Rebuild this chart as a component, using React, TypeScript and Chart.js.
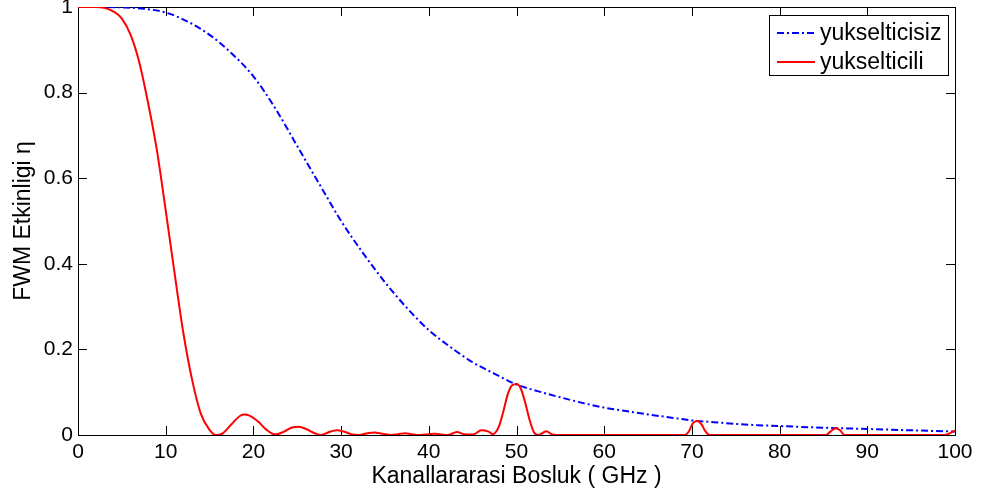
import React, { useEffect, useRef } from 'react';
import { Chart, registerables } from 'chart.js';

Chart.register(...registerables);

const xTickValues = [0, 10, 20, 30, 40, 50, 60, 70, 80, 90, 100];
const yTickValues = [0, 0.2, 0.4, 0.6, 0.8, 1];

const seriesNames = ['yukselticisiz', 'yukselticili'];

// yukselticisiz (blue, dash-dot)
const blueX = [0, 2.5, 5, 7.5, 10, 12.5, 15, 17.5, 20, 22.5, 25, 27.5, 30, 32.5, 35, 37.5, 40, 42.5, 45, 47.5, 50, 52.5, 55, 57.5, 60, 62.5, 65, 67.5, 70, 72.5, 75, 77.5, 80, 85, 90, 95, 100];
const blueY = [1.0, 1.0, 0.999, 0.996, 0.987, 0.966, 0.935, 0.892, 0.838, 0.763, 0.675, 0.587, 0.5, 0.425, 0.357, 0.297, 0.245, 0.205, 0.17, 0.143, 0.118, 0.102, 0.088, 0.075, 0.064, 0.056, 0.048, 0.041, 0.034, 0.03, 0.026, 0.023, 0.021, 0.017, 0.014, 0.011, 0.008];

// yukselticili (red, solid)
const redX = [0, 2, 3, 4, 5, 6, 7, 8, 9, 10, 11, 12, 13, 14, 15, 15.7, 16.5, 17.5, 18.5, 19, 19.5, 20.5, 21.5, 22.5, 23.5, 24.5, 25.2, 26, 27, 27.7, 28.5, 29.5, 30.3, 31.3, 32, 33, 33.8, 34.7, 35.7, 36.5, 37.3, 38, 39, 40, 40.7, 41.5, 42.2, 43.2, 44, 45, 46, 46.8, 47.3, 48, 48.5, 49, 49.5, 50, 50.5, 51, 51.5, 52, 52.5, 53.4, 54, 54.5, 69.2, 69.7, 70.1, 70.6, 71.1, 71.5, 72, 85.3, 85.8, 86.4, 86.9, 87.4, 98.8, 99.5, 100];
const redY = [1, 1, 0.998, 0.99, 0.973, 0.935, 0.87, 0.775, 0.665, 0.525, 0.38, 0.24, 0.13, 0.05, 0.012, 0, 0.004, 0.025, 0.045, 0.048, 0.046, 0.032, 0.012, 0.001, 0.008, 0.018, 0.019, 0.014, 0.004, 0, 0.006, 0.011, 0.008, 0.001, 0, 0.004, 0.006, 0.003, 0, 0.002, 0.004, 0.002, 0, 0.002, 0.003, 0.001, 0, 0.007, 0.002, 0.001, 0.011, 0.008, 0.002, 0.02, 0.055, 0.095, 0.116, 0.119, 0.108, 0.075, 0.035, 0.006, 0, 0.009, 0.002, 0, 0, 0.01, 0.027, 0.033, 0.025, 0.01, 0, 0, 0.008, 0.016, 0.011, 0, 0, 0.005, 0.01];

const FONT = "'Liberation Sans', Arial, Helvetica, sans-serif";
const BLUE = '#0000ff';
const RED = '#ff0000';
const BLUE_DASH = [7, 3, 2, 3];

const boxPlugin = {
  id: 'matlabBox',
  beforeDatasetsDraw(chart: any) {
    const { ctx, chartArea: a, scales } = chart;
    const xs = scales.x;
    const ys = scales.y;
    const tl = 9;
    ctx.save();
    ctx.strokeStyle = '#000';
    ctx.lineWidth = 1;
    ctx.beginPath();
    xTickValues.forEach((v) => {
      const px = Math.round(xs.getPixelForValue(v)) + 0.5;
      ctx.moveTo(px, a.bottom);
      ctx.lineTo(px, a.bottom - tl);
      ctx.moveTo(px, a.top);
      ctx.lineTo(px, a.top + tl);
    });
    yTickValues.forEach((v) => {
      const py = Math.round(ys.getPixelForValue(v)) + 0.5;
      ctx.moveTo(a.left, py);
      ctx.lineTo(a.left + tl, py);
      ctx.moveTo(a.right, py);
      ctx.lineTo(a.right - tl, py);
    });
    ctx.stroke();
    ctx.strokeRect(Math.round(a.left) + 0.5, Math.round(a.top) + 0.5, Math.round(a.right - a.left), Math.round(a.bottom - a.top));
    ctx.restore();
  },
  afterDatasetsDraw(chart: any) {
    const { ctx, chartArea: a } = chart;
    const bx = a.right - 186;
    const by = a.top + 8;
    const bw = 179;
    const bh = 60;
    ctx.save();
    ctx.fillStyle = '#fff';
    ctx.fillRect(bx, by, bw, bh);
    ctx.strokeStyle = '#000';
    ctx.lineWidth = 1;
    ctx.strokeRect(Math.round(bx) + 0.5, Math.round(by) + 0.5, bw, bh);
    const rows = [
      { name: seriesNames[0], color: BLUE, dash: BLUE_DASH },
      { name: seriesNames[1], color: RED, dash: [] as number[] },
    ];
    rows.forEach((r, i) => {
      const cy = by + 18 + i * 29;
      ctx.beginPath();
      ctx.setLineDash(r.dash);
      ctx.strokeStyle = r.color;
      ctx.lineWidth = 2;
      ctx.moveTo(bx + 8, cy);
      ctx.lineTo(bx + 46, cy);
      ctx.stroke();
      ctx.setLineDash([]);
      ctx.fillStyle = '#000';
      ctx.font = `23px ${FONT}`;
      ctx.textBaseline = 'middle';
      ctx.textAlign = 'left';
      ctx.fillText(r.name, bx + 51, cy + 1);
    });
    ctx.restore();
  },
};

const fmt = (v: any) => String(Math.round(Number(v) * 10) / 10);

export default function App() {
  const ref = useRef<HTMLCanvasElement | null>(null);

  useEffect(() => {
    if (!ref.current) return;
    const chart = new Chart(ref.current, {
      type: 'line',
      data: {
        datasets: [
          {
            label: seriesNames[0],
            data: blueX.map((x, i) => ({ x, y: blueY[i] })),
            borderColor: BLUE,
            borderWidth: 2,
            borderDash: BLUE_DASH,
            pointRadius: 0,
            cubicInterpolationMode: 'monotone',
            fill: false,
            order: 1,
          },
          {
            label: seriesNames[1],
            data: redX.map((x, i) => ({ x, y: redY[i] })),
            borderColor: RED,
            borderWidth: 2,
            pointRadius: 0,
            cubicInterpolationMode: 'monotone',
            fill: false,
            order: 0,
          },
        ],
      },
      options: {
        responsive: false,
        animation: false,
        events: [],
        layout: { padding: { left: 0, right: 32, top: 7, bottom: 0 } },
        plugins: { legend: { display: false }, tooltip: { enabled: false } },
        scales: {
          x: {
            type: 'linear',
            min: 0,
            max: 100,
            afterBuildTicks: (s: any) => {
              s.ticks = xTickValues.map((v) => ({ value: v }));
            },
            afterFit: (s: any) => {
              s.height = 62;
              s.paddingLeft = 0;
              s.paddingRight = 0;
            },
            grid: { display: false, drawTicks: false },
            border: { display: false },
            ticks: {
              padding: 5,
              maxRotation: 0,
              autoSkip: false,
              color: '#000',
              font: { family: FONT, size: 21 },
              callback: fmt,
            },
            title: {
              display: true,
              text: 'Kanallararasi Bosluk ( GHz )',
              color: '#000',
              font: { family: FONT, size: 23 },
              padding: { top: 0, bottom: 7 },
            },
          },
          y: {
            type: 'linear',
            min: 0,
            max: 1,
            afterBuildTicks: (s: any) => {
              s.ticks = yTickValues.map((v) => ({ value: v }));
            },
            afterFit: (s: any) => {
              s.width = 78;
              s.paddingTop = 0;
              s.paddingBottom = 0;
            },
            grid: { display: false, drawTicks: false },
            border: { display: false },
            ticks: {
              padding: 5,
              autoSkip: false,
              color: '#000',
              font: { family: FONT, size: 21 },
              callback: fmt,
            },
            title: {
              display: true,
              text: 'FWM Etkinligi η',
              color: '#000',
              font: { family: FONT, size: 23 },
              padding: { top: 10, bottom: 0 },
            },
          },
        },
      },
      plugins: [boxPlugin],
    } as any);
    return () => chart.destroy();
  }, []);

  return (
    <div style={{ position: 'absolute', left: 0, top: 0, width: 987, height: 497, background: '#fff' }}>
      <canvas ref={ref} width={987} height={497} style={{ display: 'block' }} />
    </div>
  );
}
